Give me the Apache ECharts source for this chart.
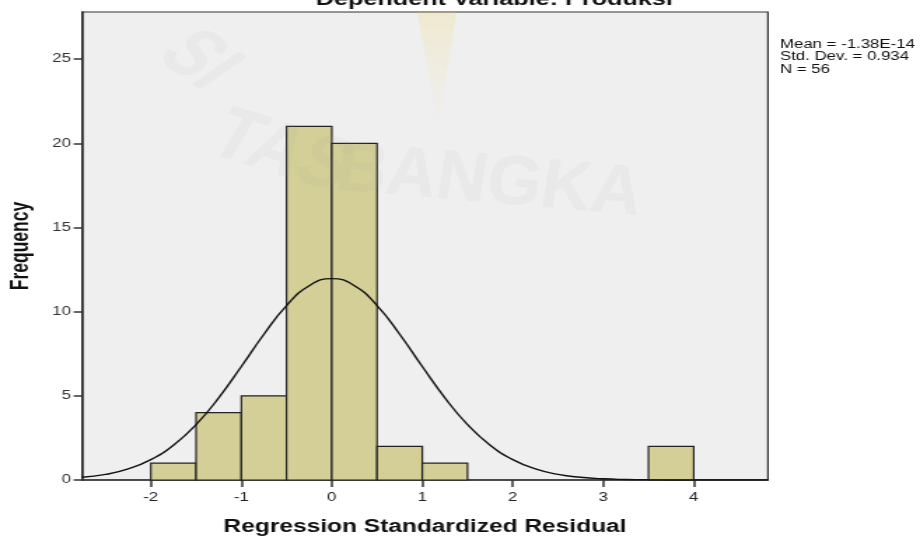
<html>
<head>
<meta charset="UTF-8">
<script src="https://cdn.jsdelivr.net/npm/echarts@6/dist/echarts.min.js"></script>
<style type="text/css">
body{margin:0;background:#fff;overflow:hidden;}
/* the source picture is stretched sideways, so the chart is drawn narrow and widened */
#chart{width:657px;height:538px;transform:scaleX(1.4003);transform-origin:0 0;}
</style>
</head>
<body>
<div id="chart"></div>
<script type="text/javascript">
// histogram bins (residual ranges) and counts
var binStart=[-2,-1.5,-1,-0.5,0,0.5,1,3.5];
var binEnd=[-1.5,-1,-0.5,0,0.5,1,1.5,4];
var counts=[1,4,5,21,20,2,1,2];
// normal curve
var curveX=[-2.76,-2.5,-2.25,-2,-1.75,-1.5,-1.25,-1,-0.75,-0.5,-0.25,0,0.25,0.5,0.75,1,1.25,1.5,1.75,2,2.25,2.5,2.75,3,3.25,3.5,3.75,4,4.25,4.5,4.82];
var curveY=[0.16,0.33,0.66,1.21,2.07,3.29,4.88,6.74,8.66,10.36,11.54,11.96,11.54,10.36,8.66,6.74,4.88,3.29,2.07,1.21,0.66,0.33,0.16,0.07,0.03,0.01,0.004,0.001,0,0,0];
var xTicks=[-2,-1,0,1,2,3,4];
var yTicks=[0,5,10,15,20,25];
var statLines=["Mean = -1.38E-14","Std. Dev. = 0.934","N = 56"];

var barData=[];
for(var i=0;i<counts.length;i++){
	barData.push([binStart[i],binEnd[i],counts[i]]);
}
var lineData=[];
for(var i=0;i<curveX.length;i++){
	lineData.push([curveX[i],curveY[i]]);
}

var dom=document.getElementById("chart");
var myChart=echarts.init(dom);
var fontA="'Liberation Sans', Arial, sans-serif";
var wm='rgba(150,150,150,0.07)';

var option={
	animation:false,
	backgroundColor:'#fff',
	graphic:[
		{type:'text',x:353,y:0,z:10,style:{text:'Dependent Variable: Produksi',font:'bold 18px '+fontA,fill:'#111',align:'center',verticalAlign:'middle'}},
		{type:'text',left:557,top:38,z:10,style:{text:statLines.join('\n'),font:'12px '+fontA,fill:'#111',lineHeight:12.5}},
		{type:'polygon',z:1,shape:{points:[[298,12],[326,12],[313,125]]},style:{fill:new echarts.graphic.LinearGradient(0,0,0,1,[{offset:0,color:'rgba(245,210,90,0.2)'},{offset:1,color:'rgba(245,210,90,0)'}])}},
		{type:'text',left:140,top:100,z:20,rotation:-0.4,scaleY:1.4,style:{text:'TAS',font:'bold 52px '+fontA,fill:wm}},
		{type:'text',left:236,top:135,z:20,rotation:-0.12,scaleY:1.4,style:{text:'BANGKA',font:'bold 50px '+fontA,fill:wm}},
		{type:'text',left:100,top:20,z:20,rotation:-0.8,scaleY:1.3,style:{text:'SI',font:'bold 52px '+fontA,fill:wm}}
	],
	grid:{
		left:58.6,right:108.6,top:12,bottom:58,
		outerBoundsMode:'none',
		show:true,backgroundColor:'#efefef',borderColor:'#333',borderWidth:1.2
	},
	xAxis:{
		type:'value',min:-2.76,max:4.82,
		name:'Regression Standardized Residual',
		nameLocation:'middle',nameGap:38,
		nameTextStyle:{fontFamily:fontA,fontSize:17.5,fontWeight:'bold',color:'#111'},
		splitLine:{show:false},
		axisLine:{show:true,onZero:false,lineStyle:{color:'#333',width:1.6}},
		axisTick:{show:true,inside:false,length:7,customValues:xTicks,lineStyle:{color:'#333',width:1.5}},
		axisLabel:{customValues:xTicks,fontFamily:fontA,fontSize:12,color:'#222',margin:12}
	},
	yAxis:{
		type:'value',min:0,max:27.8,
		name:'Frequency',
		nameLocation:'middle',nameGap:34,
		nameTextStyle:{fontFamily:fontA,fontSize:17.5,fontWeight:'bold',color:'#111'},
		splitLine:{show:false},
		axisLine:{show:true,onZero:false,lineStyle:{color:'#333',width:1.6}},
		axisTick:{show:true,length:6,customValues:yTicks,lineStyle:{color:'#333',width:1.5}},
		axisLabel:{customValues:yTicks,fontFamily:fontA,fontSize:12,color:'#333',margin:8}
	},
	series:[
		{
			type:'custom',
			data:barData,
			encode:{x:[0,1],y:2},
			renderItem:function(params,api){
				var p0=api.coord([api.value(0),api.value(2)]);
				var p1=api.coord([api.value(1),0]);
				return {
					type:'rect',
					shape:{x:p0[0],y:p0[1],width:p1[0]-p0[0],height:p1[1]-p0[1]},
					style:{fill:'#d3cf97',stroke:'#222',lineWidth:1.2}
				};
			},
			z:2
		},
		{
			type:'line',
			data:lineData,
			smooth:true,
			symbol:'none',
			lineStyle:{color:'#111',width:1.4},
			z:3
		}
	]
};
myChart.setOption(option,true);
</script>
</body>
</html>
